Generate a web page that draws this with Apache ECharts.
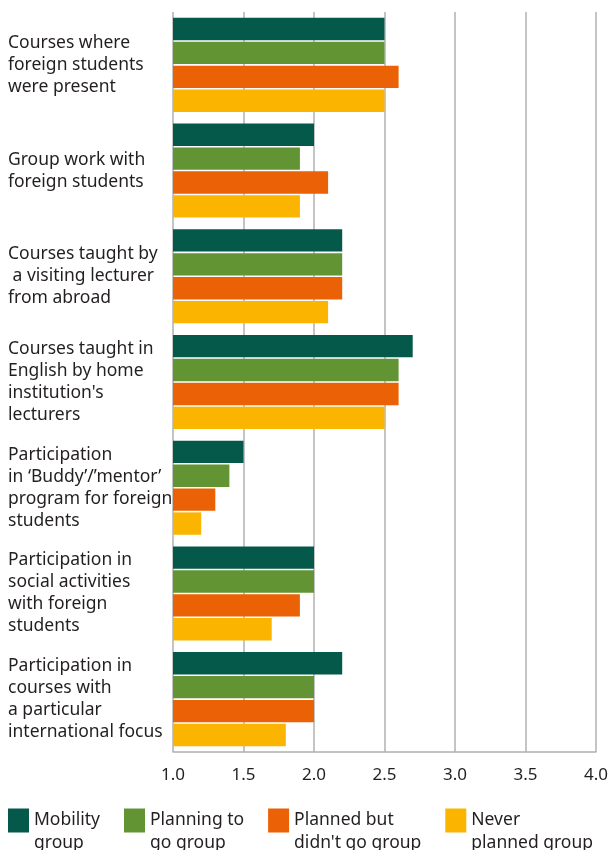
<!DOCTYPE html>
<html>
<head>
<meta charset="utf-8">
<script src="https://cdn.jsdelivr.net/npm/echarts@6/dist/echarts.min.js"></script>
<style>
  html, body { margin: 0; padding: 0; background: #fff; }
  #chart { width: 611px; height: 850px; }
</style>
</head>
<body>
<div id="chart"></div>
<script>
// categories (top to bottom)
var categories = [
    'Courses where\nforeign students\nwere present',
    'Group work with\nforeign students',
    'Courses taught by\n a visiting lecturer\nfrom abroad',
    'Courses taught in\nEnglish by home\ninstitution\'s\nlecturers',
    'Participation\nin \u2018Buddy\u2019/\u2019mentor\u2019\nprogram for foreign\nstudents',
    'Participation in\nsocial activities\nwith foreign\nstudents',
    'Participation in\ncourses with\na particular\ninternational focus'
]

var mobility = [2.5, 2.0, 2.2, 2.7, 1.5, 2.0, 2.2]
var planningTo = [2.5, 1.9, 2.2, 2.6, 1.4, 2.0, 2.0]
var plannedBut = [2.6, 2.1, 2.2, 2.6, 1.3, 1.9, 2.0]
var neverPlanned = [2.5, 1.9, 2.1, 2.5, 1.2, 1.7, 1.8]

var seriesNames = ['Mobility\ngroup', 'Planning to\ngo group', 'Planned but\ndidn\'t go group', 'Never\nplanned group']
var colors = ['#04594a', '#639433', '#eb6105', '#fbb400']

var font = 'Noto Sans'
var myChart = echarts.init(document.getElementById('chart'))

var mk = function (name, data, i) {
    return {
        name: name,
        type: 'bar',
        data: data,
        barGap: '7%',
        barCategoryGap: '11%',
        itemStyle: {color: colors[i]},
        emphasis: {disabled: true}
    }
}

var option = {
    animation: false,
    color: colors,
    grid: {left: 173, right: 10, top: 12, bottom: 98},
    legend: {
        left: 8,
        top: 786,
        padding: 0,
        itemGap: 24,
        itemWidth: 21,
        itemHeight: 24,
        icon: 'rect',
        selectedMode: false,
        formatter: function (name) { return '\n' + name },
        textStyle: {
            fontFamily: font,
            fontSize: 17.5,
            color: '#231f20',
            lineHeight: 23
        }
    },
    xAxis: {
        type: 'value',
        min: 1,
        max: 4,
        interval: 0.5,
        axisLine: {show: true, lineStyle: {color: '#b0b0b0', width: 1.5}},
        axisTick: {show: false},
        splitLine: {show: true, lineStyle: {color: '#b0b0b0', width: 1.5}},
        axisLabel: {
            fontFamily: font,
            fontSize: 17,
            color: '#231f20',
            margin: 15,
            formatter: function (v) { return v.toFixed(1) }
        }
    },
    yAxis: {
        type: 'category',
        inverse: true,
        data: categories,
        axisLine: {show: false},
        axisTick: {show: false},
        axisLabel: {
            align: 'left',
            margin: 165,
            fontFamily: font,
            fontSize: 17.5,
            lineHeight: 22,
            color: '#231f20'
        }
    },
    series: [
        mk(seriesNames[0], mobility, 0),
        mk(seriesNames[1], planningTo, 1),
        mk(seriesNames[2], plannedBut, 2),
        mk(seriesNames[3], neverPlanned, 3)
    ]
}

myChart.setOption(option)
</script>
</body>
</html>
